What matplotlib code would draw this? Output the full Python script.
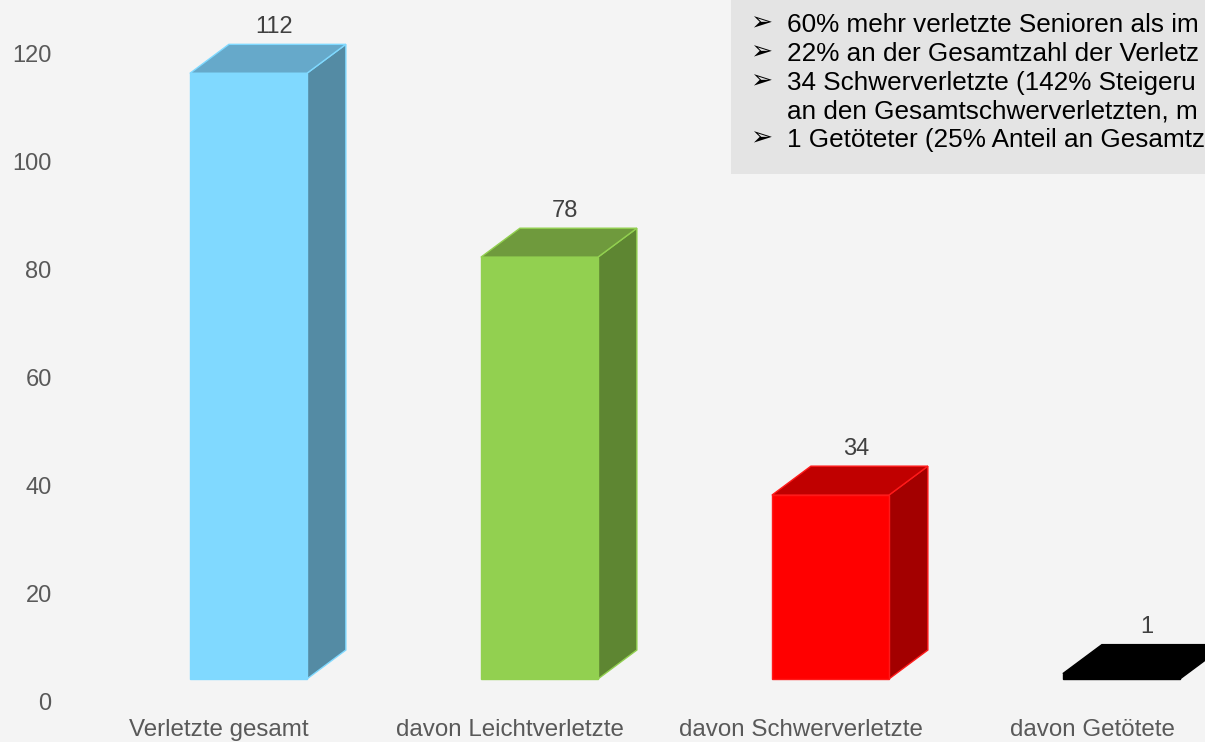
import matplotlib
matplotlib.use("Agg")
import matplotlib.pyplot as plt
from matplotlib.patches import Polygon, Rectangle

plt.rcParams['font.family'] = ['Liberation Sans', 'DejaVu Sans']

# ==================== data ====================
categories = ['Verletzte gesamt', 'davon Leichtverletzte', 'davon Schwerverletzte', 'davon Getötete']
values = [112, 78, 34, 1]
front_colors = ['#80D9FF', '#92D050', '#FF0000', '#000000']
top_colors = ['#66A9CA', '#6F9A3D', '#C00000', '#000000']
side_colors = ['#548BA4', '#5E8632', '#A30000', '#000000']
edge_colors = ['#80D9FF', '#92D050', '#FF1A1A', '#000000']
y_ticks = [0, 20, 40, 60, 80, 100, 120]

# only what is visible in the (cut) box
box_lines = [
    '60% mehr verletzte Senioren als im',
    '22% an der Gesamtzahl der Verletz',
    '34 Schwerverletzte (142% Steigeru',
    'an den Gesamtschwerverletzten, m',
    '1 Getöteter (25% Anteil an Gesamtz',
]
box_bullets = [True, True, True, False, True]

# ==================== 3D look ====================
bg = '#F4F4F4'
base = 4.25      # floor offset of the front face
w = 0.402        # front face width (category units)
off = -0.10      # front face left offset from category position
dx = 0.134       # depth in x
dy = 5.36        # depth in y

W, H = 1205, 742
fig = plt.figure(figsize=(W / 100, H / 100), dpi=100, facecolor=bg)
ax = fig.add_axes([60 / W, 40 / H, 1 - 60 / W, 1 - 40 / H])
ax.set_facecolor(bg)
ax.set_xlim((60 - 219) / 291, (W - 219) / 291)
ax.set_ylim(0, 702 / 5.408)

for i, v in enumerate(values):
    x0 = i + off
    x1 = x0 + w
    y0 = base
    y1 = base + v
    front = Polygon([(x0, y0), (x1, y0), (x1, y1), (x0, y1)], closed=True,
                    facecolor=front_colors[i], edgecolor=edge_colors[i], lw=1, zorder=3, clip_on=False)
    side = Polygon([(x1, y0), (x1 + dx, y0 + dy), (x1 + dx, y1 + dy), (x1, y1)], closed=True,
                   facecolor=side_colors[i], edgecolor=edge_colors[i], lw=1, zorder=2, clip_on=False)
    top = Polygon([(x0, y1), (x1, y1), (x1 + dx, y1 + dy), (x0 + dx, y1 + dy)], closed=True,
                  facecolor=top_colors[i], edgecolor=edge_colors[i], lw=1, zorder=2, clip_on=False)
    for p in (side, top, front):
        ax.add_patch(p)
    ax.text(x0 + (w + dx) / 2 + 0.02, y1 + dy + 1.2, str(v), ha='center', va='bottom',
            fontsize=17, color='#404040', zorder=5)

ax.set_xticks(range(len(categories)))
ax.set_xticklabels(categories, fontsize=17.4, color='#595959')
ax.set_yticks(y_ticks)
ax.set_yticklabels([str(t) for t in y_ticks], fontsize=17, color='#595959')
ax.tick_params(axis='both', length=0)
ax.tick_params(axis='x', pad=12)
ax.tick_params(axis='y', pad=6)
for s in ax.spines.values():
    s.set_visible(False)

# ==================== text box ====================
fig.patches.append(Rectangle((731 / W, 1 - 174 / H), 1, 174 / H, transform=fig.transFigure,
                             facecolor='#E4E4E4', edgecolor='none', zorder=4))
baselines = [32, 61, 90, 119, 147]
for line, bullet, yb in zip(box_lines, box_bullets, baselines):
    if bullet:
        fig.text(750 / W, 1 - (yb - 2) / H, '➢', fontsize=19, color='#000000', va='baseline', zorder=6,
                 family=['DejaVu Sans'])
    fig.text(787 / W, 1 - yb / H, line, fontsize=18.8, color='#000000', va='baseline', zorder=6)

fig.savefig('out.png', dpi=100, facecolor=bg)
